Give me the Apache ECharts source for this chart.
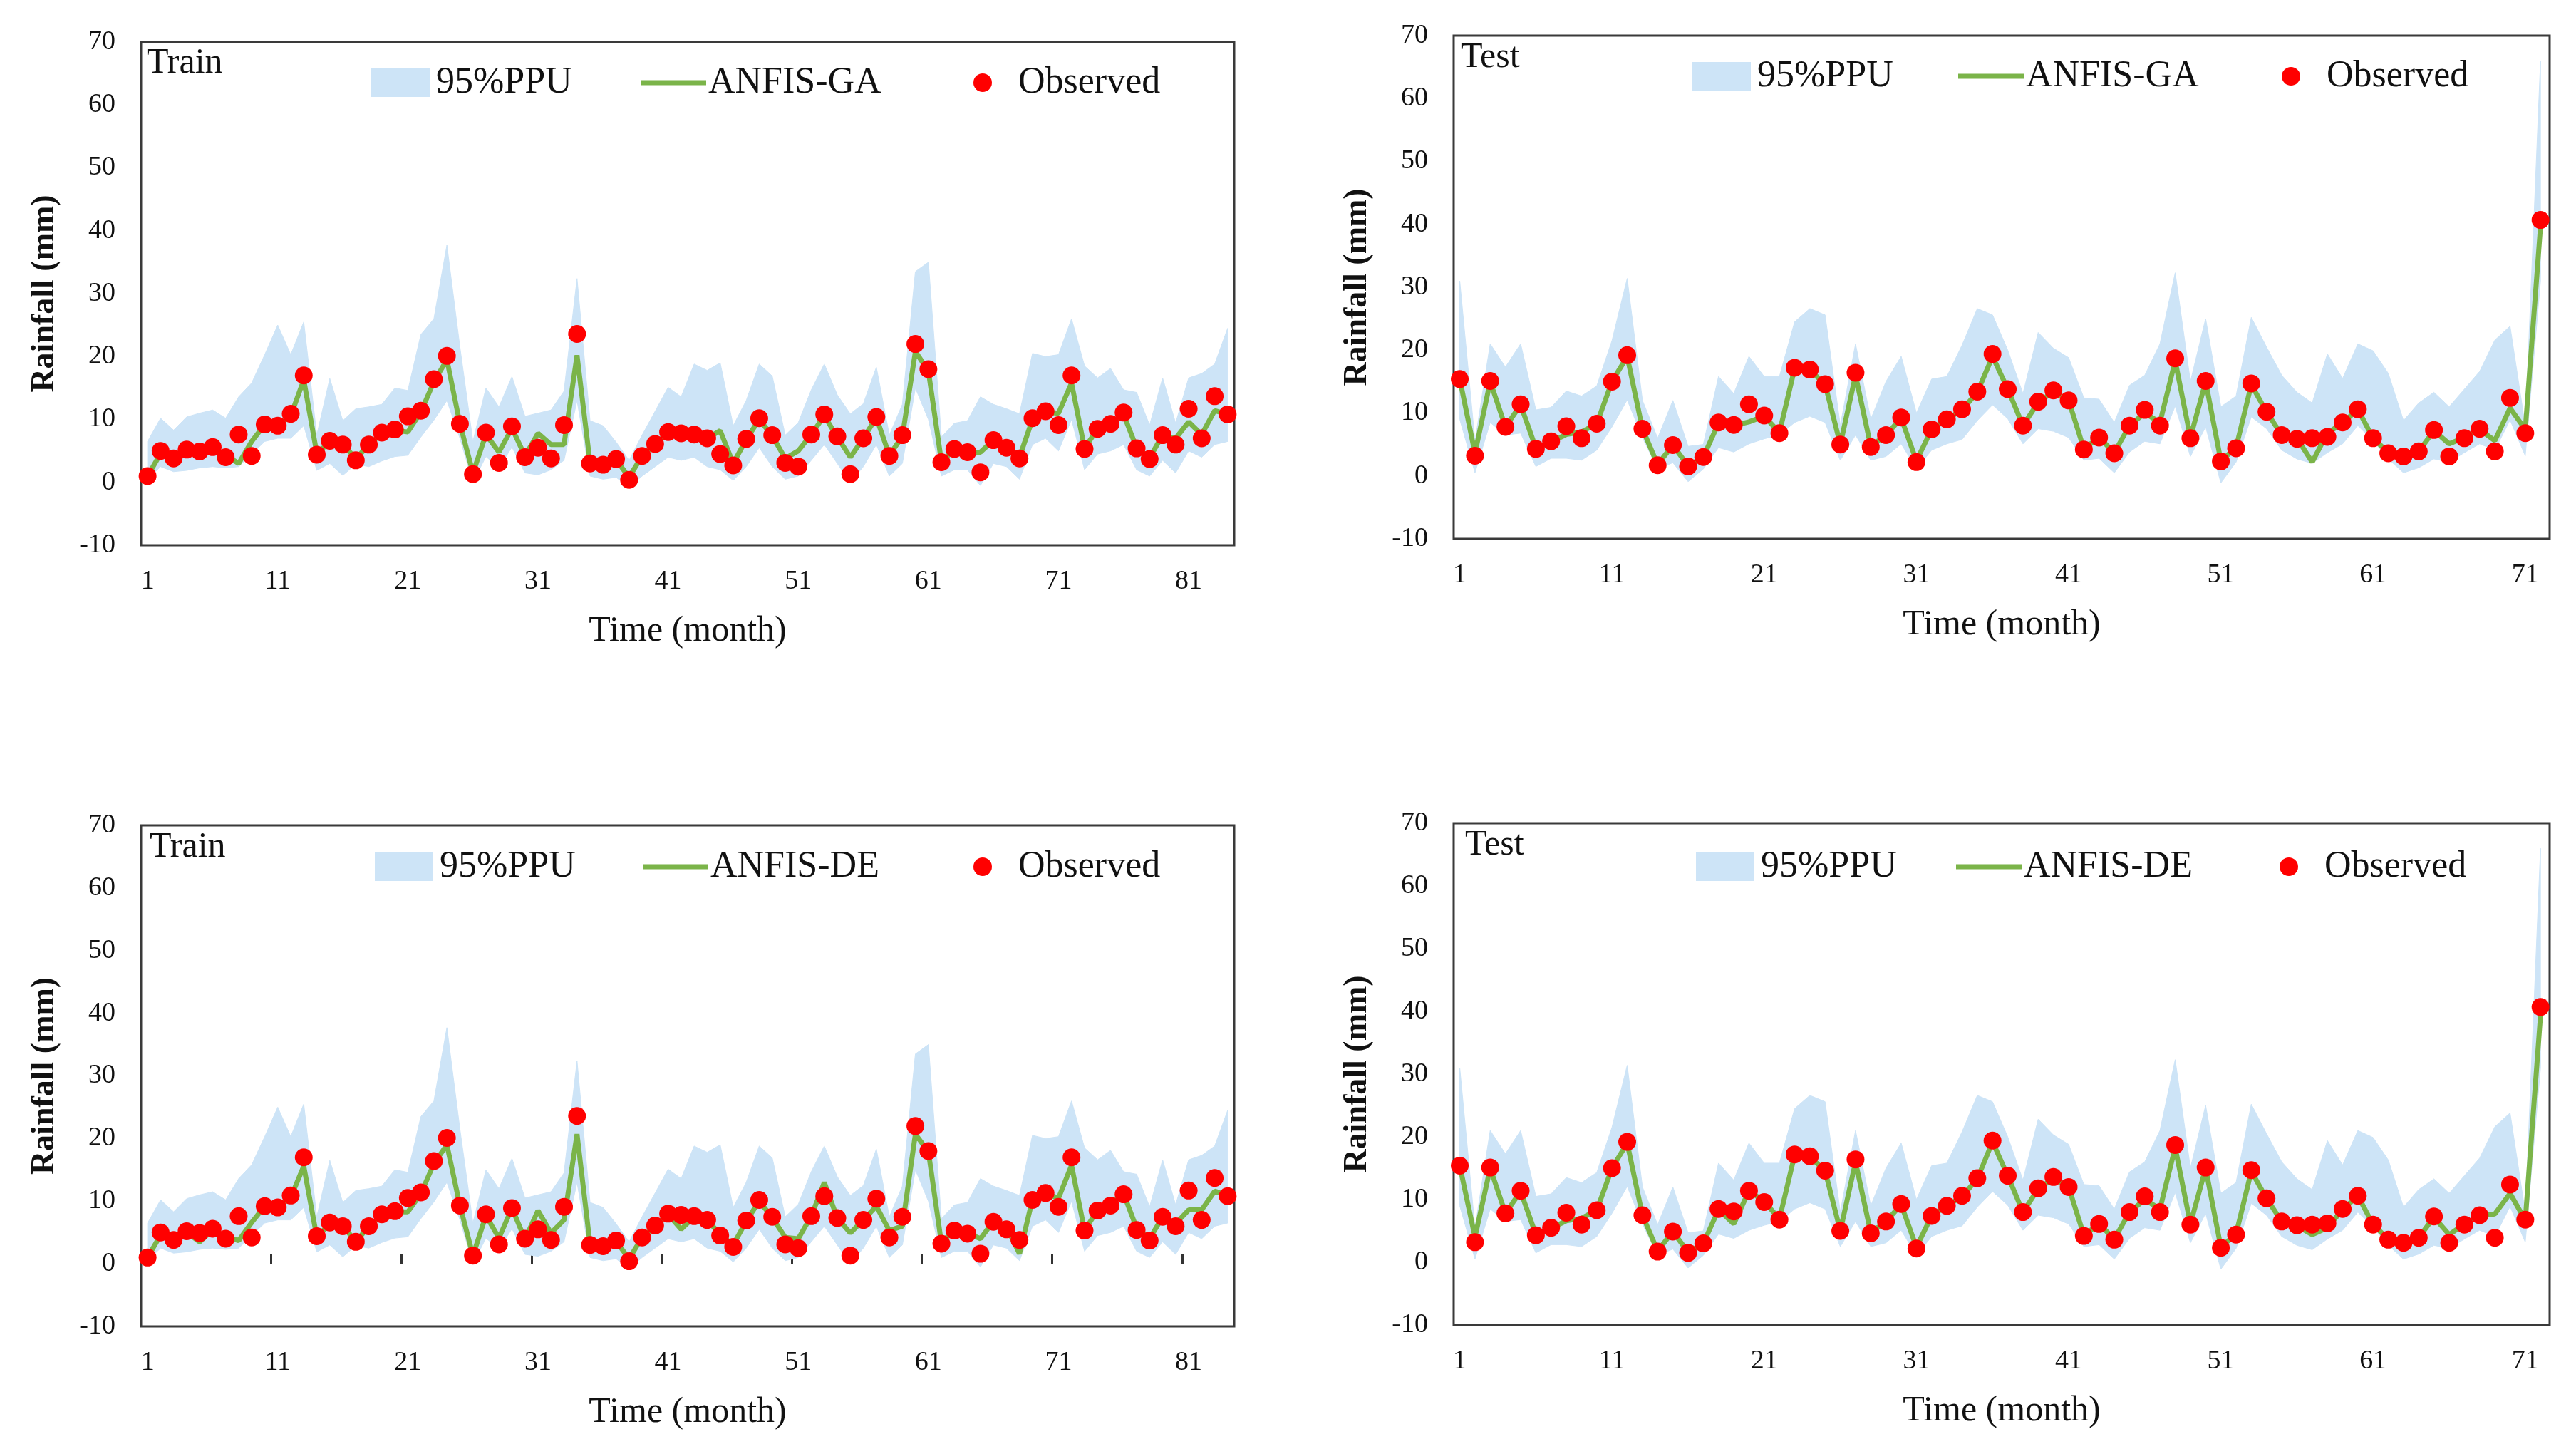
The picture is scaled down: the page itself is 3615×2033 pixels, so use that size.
<!DOCTYPE html>
<html>
<head>
<meta charset="utf-8">
<script src="https://cdn.jsdelivr.net/npm/echarts@6/dist/echarts.min.js"></script>
<style>
html,body{margin:0;padding:0;background:#ffffff;}
#chart{width:3615px;height:2033px;}
</style>
</head>
<body>
<div id="chart"></div>
<script>
// ---------- tick labels ----------
const trainTickLabels = [1, 11, 21, 31, 41, 51, 61, 71, 81];
const testTickLabels = [1, 11, 21, 31, 41, 51, 61, 71];
const trainTickMarks = [10.5, 20.5, 30.5, 40.5, 50.5, 60.5, 70.5, 80.5];

// ---------- Train (84 months) ----------
const trainObserved = [1.0,5.0,3.8,5.2,4.9,5.6,4.0,7.6,4.2,9.2,
  9.0,10.9,17.0,4.4,6.6,6.0,3.5,6.0,7.9,8.4,
  10.5,11.4,16.4,20.1,9.3,1.3,7.9,3.1,8.9,4.0,
  5.5,3.8,9.1,23.6,3.0,2.8,3.7,0.4,4.2,6.1,
  8.0,7.8,7.6,7.0,4.5,2.7,6.9,10.2,7.5,3.1,
  2.5,7.6,10.8,7.3,1.3,7.0,10.4,4.2,7.5,22.0,
  18.0,3.2,5.3,4.8,1.6,6.7,5.5,3.8,10.2,11.3,
  9.1,17.0,5.3,8.5,9.3,11.1,5.4,3.7,7.5,6.0,
  11.7,7.0,13.7,10.8];
const trainGA = [1.0,4.6,4.0,5.0,4.8,5.4,4.3,3.0,6.5,9.2,
  9.0,10.6,16.3,4.6,6.4,6.0,3.8,5.9,7.8,8.3,
  8.0,11.2,16.0,19.5,9.3,1.5,7.6,4.8,8.6,4.2,
  7.8,6.0,6.0,20.2,3.1,3.0,3.6,0.8,4.2,6.0,
  7.9,7.8,7.5,7.0,8.2,3.0,6.8,10.0,7.4,3.8,
  5.0,7.6,10.6,7.2,4.0,7.0,10.3,4.3,7.3,20.8,
  17.7,3.3,5.2,4.8,4.8,6.7,5.5,4.0,10.0,11.2,
  11.0,15.8,5.4,8.5,9.3,10.8,5.5,3.9,7.5,7.0,
  9.6,7.6,11.4,10.8];
const trainDE = [1.0,4.6,4.0,5.0,3.5,5.4,4.3,3.7,6.6,9.2,
  9.0,10.6,15.6,4.3,6.4,6.0,3.6,5.9,7.8,8.3,
  8.3,11.2,16.0,19.0,9.3,1.3,7.7,4.1,8.9,3.9,
  8.5,4.9,7.0,20.7,3.1,3.0,3.6,0.8,4.2,6.0,
  7.9,5.5,7.5,7.0,4.7,3.0,6.8,10.0,7.4,4.2,
  4.0,7.6,13.0,7.3,4.9,7.0,9.2,5.3,6.0,20.7,
  17.9,3.3,5.5,4.9,4.0,6.8,5.9,1.6,10.3,11.2,
  10.5,15.7,5.3,8.6,9.6,11.2,5.7,4.0,7.5,6.4,
  8.6,8.6,11.6,10.9];
const trainUpper = [6.5,10.2,8.3,10.4,11.0,11.5,10.2,13.6,15.8,20.3,
  25.0,20.3,25.5,7.5,16.5,9.8,11.7,12.0,12.4,15.0,
  14.6,23.5,26.0,37.7,21.5,6.5,15.0,12.0,16.8,10.5,
  11.0,11.5,14.5,32.4,9.8,9.0,6.4,3.5,7.5,11.3,
  15.1,13.6,18.8,17.8,19.0,9.0,13.0,18.8,16.9,7.5,
  9.5,14.7,18.8,13.9,10.9,12.5,18.3,7.5,12.4,33.5,
  35.0,7.2,9.4,9.8,13.6,12.4,11.7,10.9,20.5,20.0,
  20.3,26.0,18.5,16.6,18.1,14.7,14.3,9.1,16.6,9.4,
  16.6,17.3,18.8,24.5];
const trainLower = [0.5,2.5,1.7,1.9,2.3,2.5,2.3,2.5,4.5,6.5,
  7.0,7.0,9.0,1.9,3.0,1.1,2.9,2.5,3.4,4.1,
  4.3,7.2,9.9,13.0,7.0,0.0,4.1,2.3,5.6,1.5,
  1.2,2.0,3.5,13.0,1.0,0.5,0.8,-0.8,1.0,2.5,
  4.0,3.5,4.0,2.5,2.0,0.3,2.5,5.5,2.5,0.5,
  1.0,3.5,6.0,3.0,0.0,2.5,6.0,1.0,3.0,15.0,
  10.0,1.0,2.0,2.0,-0.5,3.0,2.5,0.5,6.0,7.0,
  5.0,10.0,2.0,4.5,5.0,6.0,2.0,1.0,3.5,1.5,
  5.0,4.0,6.0,6.5];

// ---------- Test (72 months) ----------
const testObserved = [15.4,3.2,15.1,7.8,11.4,4.3,5.5,7.9,6.0,8.3,
  15.0,19.2,7.5,1.7,4.9,1.5,3.0,8.5,8.1,11.4,
  9.6,6.8,17.2,16.9,14.6,5.0,16.4,4.6,6.5,9.3,
  2.2,7.4,9.0,10.6,13.4,19.4,13.8,8.0,11.8,13.6,
  12.0,4.2,6.1,3.6,8.0,10.5,8.0,18.7,6.0,15.1,
  2.3,4.4,14.7,10.2,6.5,5.9,6.0,6.2,8.5,10.6,
  6.0,3.6,3.1,3.9,7.3,3.1,6.0,7.5,3.9,12.4,
  6.8,40.7];
const testGA = [15.4,3.6,15.0,7.8,11.3,4.4,5.4,6.6,7.0,8.3,
  15.0,19.0,7.5,1.8,4.9,1.6,3.0,8.4,8.0,8.6,
  9.5,6.9,17.1,16.8,14.6,5.0,16.0,4.7,6.5,9.2,
  2.4,7.4,9.0,10.5,13.3,19.0,13.8,8.0,11.7,13.4,
  12.0,4.3,6.1,3.7,8.0,10.0,8.5,18.3,6.1,15.0,
  2.4,4.5,14.5,10.2,6.5,6.0,2.2,6.8,8.4,10.6,
  6.0,3.7,3.2,3.9,7.2,5.1,6.1,7.4,5.6,10.8,
  7.4,39.6];
const testDE = [15.4,4.0,15.0,7.8,11.3,4.4,5.4,6.6,7.0,8.3,
  15.0,19.0,7.5,1.8,4.9,1.6,3.0,8.4,6.1,11.4,
  9.7,6.9,17.1,16.8,14.6,5.0,16.0,4.7,6.5,9.2,
  2.4,7.4,9.0,10.5,13.3,19.2,13.8,8.0,11.7,13.4,
  12.0,4.3,6.1,3.7,8.0,10.0,8.5,18.3,6.1,15.0,
  2.4,4.5,14.5,10.2,6.5,5.8,4.4,5.5,8.4,10.6,
  6.0,3.7,3.2,3.9,7.2,4.4,6.1,7.4,7.7,11.0,
  6.7,39.3];
const testUpper = [31.0,5.5,21.0,17.3,21.0,10.5,10.9,13.5,12.7,14.3,
  21.5,31.4,12.0,6.0,12.0,4.7,5.0,15.8,13.1,19.0,
  15.8,15.8,24.5,26.6,25.6,8.0,21.0,9.0,15.0,19.0,
  10.0,15.4,15.8,20.8,26.6,25.6,20.0,13.1,22.8,20.3,
  18.8,12.4,12.2,8.5,14.4,16.0,21.0,32.3,15.0,25.0,
  11.0,12.7,25.2,20.5,16.0,13.3,11.6,19.4,15.5,21.0,
  19.9,16.3,8.8,11.6,13.3,11.0,13.8,16.6,21.6,23.8,
  7.9,66.0];
const testLower = [9.0,0.5,8.5,6.5,6.8,1.5,2.8,2.8,2.5,4.1,
  7.8,12.1,6.1,1.1,2.1,-0.9,1.1,4.5,3.8,5.1,
  5.9,6.5,8.5,9.5,8.5,2.5,6.5,2.5,3.1,5.1,
  1.1,4.1,5.1,5.8,8.8,11.3,9.1,5.1,7.5,7.1,
  6.1,2.5,2.8,0.5,3.8,5.5,5.1,11.1,3.1,7.8,
  -1.1,2.2,9.4,7.5,4.1,2.7,2.0,3.7,5.1,8.0,
  5.6,2.7,0.5,1.3,2.7,2.2,3.7,5.1,4.1,8.9,
  3.2,31.0];

// ---------- styling ----------
const SERIF = '"Liberation Serif", "Times New Roman", serif';
const TEXT = '#111111';
const BAND = '#cde4f7';
const GREEN = '#7bb449';
const RED = '#ff0000';

const panels = [
  {label:'Train', model:'ANFIS-GA', obs:trainObserved, sim:trainGA, up:trainUpper, lo:trainLower,
   labels:trainTickLabels, ticks:null, min:0.5, max:84.5,
   grid:{left:198, top:59, width:1534, height:706}, title:{left:206, top:64},
   leg:{y:121, ppu:521, line:899, dot:1366}},
  {label:'Test', model:'ANFIS-GA', obs:testObserved, sim:testGA, up:testUpper, lo:testLower,
   labels:testTickLabels, ticks:null, min:0.6, max:72.6,
   grid:{left:2040, top:50, width:1538, height:706}, title:{left:2050, top:56},
   leg:{y:112, ppu:2375, line:2748, dot:3202}},
  {label:'Train', model:'ANFIS-DE', obs:trainObserved, sim:trainDE, up:trainUpper, lo:trainLower,
   labels:trainTickLabels, ticks:trainTickMarks, min:0.5, max:84.5,
   grid:{left:198, top:1158, width:1534, height:703}, title:{left:210, top:1164},
   leg:{y:1221, ppu:526, line:902, dot:1366}},
  {label:'Test', model:'ANFIS-DE', obs:testObserved, sim:testDE, up:testUpper, lo:testLower,
   labels:testTickLabels, ticks:null, min:0.6, max:72.6,
   grid:{left:2040, top:1155, width:1538, height:704}, title:{left:2056, top:1161},
   leg:{y:1221, ppu:2380, line:2745, dot:3199}}
];

const grids = [], xAxes = [], yAxes = [], series = [], legends = [], titles = [];
const LEG_H = 31;

panels.forEach((p, i) => {
  grids.push(Object.assign({show:true, borderColor:'#3a3a3a', borderWidth:3, backgroundColor:'#ffffff', containLabel:false}, p.grid));
  xAxes.push({
    type:'value', gridIndex:i, min:p.min, max:p.max,
    axisLine:{show:false}, splitLine:{show:false},
    axisTick: p.ticks ? {show:true, inside:true, length:14, lineStyle:{color:'#333', width:3}, customValues:p.ticks} : {show:false},
    axisLabel:{customValues:p.labels, fontFamily:SERIF, fontSize:38, color:TEXT, margin:32},
    name:'Time (month)', nameLocation:'middle', nameGap:96,
    nameTextStyle:{fontFamily:SERIF, fontSize:50, color:TEXT}
  });
  yAxes.push({
    type:'value', gridIndex:i, min:-10, max:70, interval:10,
    axisLine:{show:false}, axisTick:{show:false}, splitLine:{show:false},
    axisLabel:{fontFamily:SERIF, fontSize:38, color:TEXT, margin:36},
    name:'Rainfall (mm)', nameLocation:'middle', nameGap:112,
    nameTextStyle:{fontFamily:SERIF, fontSize:46, fontWeight:'bold', color:TEXT}
  });
  // 95%PPU band: polygon through the upper values and back along the lower values
  const up = p.up, lo = p.lo;
  series.push({
    type:'custom', name:'95%PPU', xAxisIndex:i, yAxisIndex:i,
    data:up.map((v, k) => [k + 1, lo[k], v]),
    encode:{x:0, y:[1, 2]},
    silent:true, z:1, clip:true,
    itemStyle:{color:BAND},
    renderItem:function (params, api) {
      if (params.dataIndex !== 0) return null;
      const pts = [];
      for (let k = 0; k < up.length; k++) pts.push(api.coord([k + 1, up[k]]));
      for (let k = lo.length - 1; k >= 0; k--) pts.push(api.coord([k + 1, lo[k]]));
      return {type:'polygon', shape:{points:pts}, style:{fill:BAND, stroke:BAND, lineWidth:1}};
    }
  });
  series.push({
    type:'line', name:p.model, xAxisIndex:i, yAxisIndex:i,
    data:p.sim.map((v, k) => [k + 1, v]),
    symbol:'none', lineStyle:{color:GREEN, width:7}, itemStyle:{color:GREEN}, z:3
  });
  series.push({
    type:'scatter', name:'Observed', xAxisIndex:i, yAxisIndex:i,
    data:p.obs.map((v, k) => [k + 1, v]),
    symbol:'circle', symbolSize:25, itemStyle:{color:RED, opacity:1}, z:4
  });
  const legText = {fontFamily:SERIF, fontSize:52, color:TEXT};
  legends.push({
    left:p.leg.ppu, top:p.leg.y - LEG_H, padding:0, selectedMode:false,
    itemWidth:82, itemHeight:40,
    data:[{name:'95%PPU', icon:'rect', itemStyle:{color:BAND, borderWidth:0}}],
    textStyle:Object.assign({padding:[0,0,0,4]}, legText)
  });
  legends.push({
    left:p.leg.line, top:p.leg.y - LEG_H, padding:0, selectedMode:false,
    itemWidth:92, itemHeight:7,
    data:[{name:p.model, icon:'rect', itemStyle:{color:GREEN, borderWidth:0}}],
    textStyle:Object.assign({padding:[0,0,0,-2]}, legText)
  });
  legends.push({
    left:p.leg.dot, top:p.leg.y - LEG_H, padding:0, selectedMode:false,
    itemWidth:26, itemHeight:26,
    data:[{name:'Observed', icon:'circle', itemStyle:{color:RED, opacity:1, borderWidth:0}}],
    textStyle:Object.assign({padding:[0,0,0,32]}, legText)
  });
  titles.push({
    text:p.label, left:p.title.left, top:p.title.top, padding:0,
    textStyle:{fontFamily:SERIF, fontSize:50, fontWeight:'normal', color:TEXT}
  });
});

const chart = echarts.init(document.getElementById('chart'), null, {renderer:'canvas'});
chart.setOption({
  backgroundColor:'#ffffff',
  animation:false,
  title:titles,
  legend:legends,
  grid:grids,
  xAxis:xAxes,
  yAxis:yAxes,
  series:series
});
</script>
</body>
</html>
